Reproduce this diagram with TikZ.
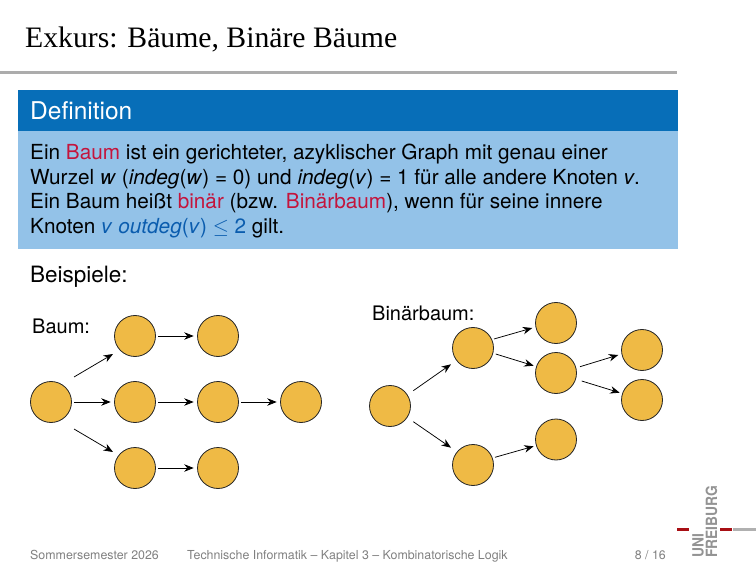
\documentclass[tikz,border=0pt]{standalone}
\usepackage{fontspec}
\setmainfont{TeX Gyre Heros}
\newfontfamily\titlefont{Liberation Serif}
\usetikzlibrary{arrows.meta}
\definecolor{HeadBlue}{HTML}{076EB8}
\definecolor{BodyBlue}{HTML}{93C2E8}
\definecolor{MarkBlue}{HTML}{0A5CAE}
\definecolor{MarkRed}{HTML}{C4143C}
\definecolor{KnotOrange}{HTML}{EFBA45}
\definecolor{FootGray}{HTML}{808080}
\definecolor{LogoRed}{HTML}{A80F14}
\definecolor{LogoGray}{HTML}{B0B0B0}
\tikzset{
  treenode/.style={circle, draw=black!85, fill=KnotOrange, line width=0.8pt, minimum size=41pt, inner sep=0pt},
  edge/.style={-{Stealth[length=9.5pt,width=7.5pt]}, line width=0.75pt},
  txt/.style={anchor=base west, inner sep=0pt},
  foot/.style={txt, text=FootGray, font=\fontsize{12.4}{15}\selectfont},
  logotxt/.style={txt, rotate=90, xscale=0.89, text=gray!85, font=\bfseries\fontsize{15.5}{16}\selectfont}
}
\begin{document}
\begin{tikzpicture}[x=1pt,y=-1pt]
  \useasboundingbox (0,0) rectangle (756,567);

  % Title and rule
  \node[txt, font=\titlefont\fontsize{29.7}{32}\selectfont] (title) at (25,47.5) {Exkurs: Bäume, Binäre Bäume};
  \fill[gray!65] (0,71) rectangle (677,74);

  % Definition block
  \fill[BodyBlue] (18,131) rectangle (678,249);
  \fill[HeadBlue] (18,90) rectangle (678,131);
  \node[txt, text=white, font=\fontsize{24.5}{28}\selectfont] (defhead) at (30,120) {Definition};
  \node[txt, anchor=north west, font=\fontsize{20.75}{24.8}\selectfont, align=left] (defbody) at (30,143.5) {%
    Ein \textcolor{MarkRed}{Baum} ist ein gerichteter, azyklischer Graph mit genau einer\\
    Wurzel \textit{w} (\textit{indeg}(\textit{w}) = 0) und \textit{indeg}(\textit{v}) = 1 für alle andere Knoten \textit{v}.\\
    Ein Baum heißt \textcolor{MarkRed}{binär} (bzw. \textcolor{MarkRed}{Binärbaum}), wenn für seine innere\\
    Knoten \textcolor{MarkBlue}{\textit{v} \textit{outdeg}(\textit{v}) $\leq$ 2} gilt.};

  \node[txt, font=\fontsize{22.5}{26}\selectfont] (beispiele) at (30,282.5) {Beispiele:};
  \node[txt, font=\fontsize{20}{24}\selectfont] (baumlab) at (32,333) {Baum:};
  \node[txt, font=\fontsize{20}{24}\selectfont] (binlab) at (372,320) {Binärbaum:};

  % Nodes
  \foreach \name/\x/\y in {
    a/51/402, b/135/336, c/218/336, d/135/402, e/218/402, f/301/402, g/135/468, h/218/468,
    r/390/406, s/473/348, t/473/465, u/556/323, m/556/373, o/556/439.5, p/642/350, q/642/400} {
    \node[treenode] (\name) at (\x,\y) {};
  }

  % Horizontal edges
  \foreach \from/\to in {b/c, a/d, d/e, e/f, g/h} {
    \draw[edge, shorten <=2.5pt, shorten >=3.4pt] (\from.east) -- (\to.west);
  }

  % Slanted edges (offsets from the centres)
  \foreach \from/\fx/\fy/\to/\tx/\ty in {
    a/23/-25/b/-22/18, a/23/27/g/-22/-16,
    r/23.3/-15.3/s/-22/16.3, r/23.3/15.7/t/-22/-17.3,
    s/21/-9/u/-23.7/5, s/22.7/6/m/-22.3/-7.3,
    t/22/-7.7/o/-22.3/6.8,
    m/24/-6.3/p/-23.7/5, m/25.7/8/q/-22.3/-7.3} {
    \draw[edge] ([shift={(\fx,\fy)}]\from.center) -- ([shift={(\tx,\ty)}]\to.center);
  }

  % Footer
  \node[foot] (semester) at (30,559) {Sommersemester 2026};
  \node[foot] (kapitel) at (187,559) {Technische Informatik -- Kapitel 3 -- Kombinatorische Logik};
  \node[foot, anchor=base east] (seite) at (666,559) {8 / 16};

  % Logo
  \fill[LogoRed] (677,528) rectangle (689,530.5);
  \fill[LogoRed] (720,528) rectangle (732,530.5);
  \fill[LogoGray] (733,528) rectangle (756,530.5);
  \node[logotxt] (uni) at (703.5,558) {UNI};
  \node[logotxt] (freiburg) at (717,558) {FREIBURG};
\end{tikzpicture}
\end{document}
